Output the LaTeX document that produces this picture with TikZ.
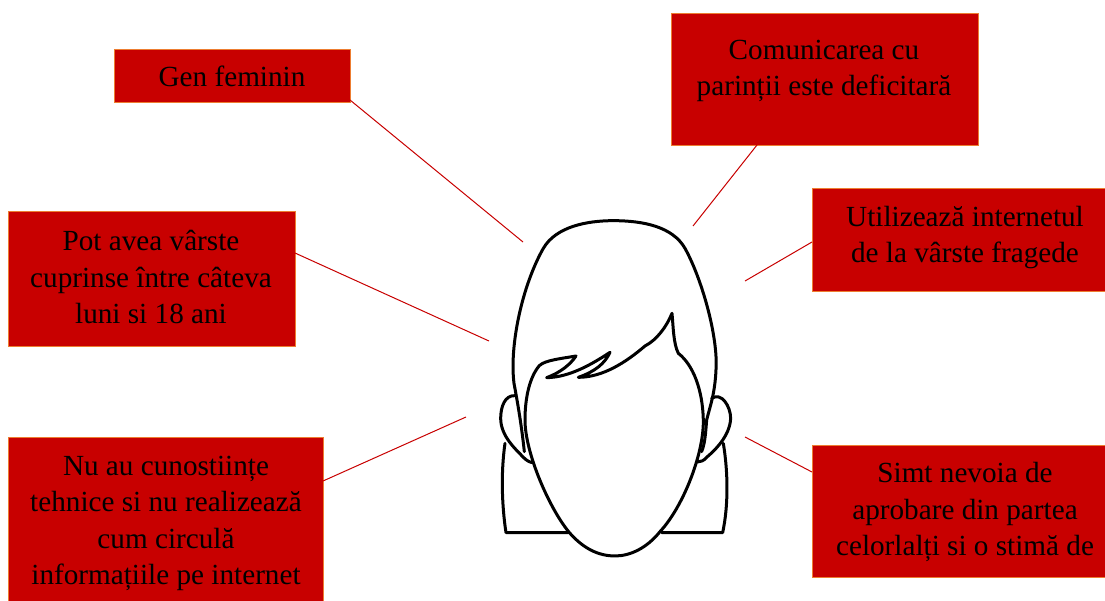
\documentclass[tikz,border=0pt]{standalone}
\usepackage{fontspec}
\setmainfont{Liberation Serif}
\definecolor{boxred}{RGB}{200,0,0}
\definecolor{boxedge}{RGB}{237,125,49}
\tikzset{
  redbox/.style={draw=boxedge,fill=boxred,line width=1.2pt,inner sep=0pt,anchor=north west},
  boxtext/.style={align=center,inner sep=0pt,text=black,font=\fontsize{29.2}{36.5}\selectfont},
  link/.style={draw=boxred,line width=1pt},
  sketch/.style={draw=black,line width=3pt,line join=round,line cap=round}
}
\begin{document}
\begin{tikzpicture}[x=1pt,y=-1pt]
\useasboundingbox (0,0) rectangle (1105,600);
\fill[white] (0,0) rectangle (1105,600);
% boxes
\node[redbox,minimum width=236pt,minimum height=53pt] (b1) at (114,49) {};
\node[redbox,minimum width=307pt,minimum height=132pt] (b2) at (671,13) {};
\node[redbox,minimum width=300pt,minimum height=103pt] (b3) at (812,188) {};
\node[redbox,minimum width=287pt,minimum height=135pt] (b4) at (8,211) {};
\node[redbox,minimum width=315pt,minimum height=175pt] (b5) at (8,437) {};
\node[redbox,minimum width=300pt,minimum height=132pt] (b6) at (812,445) {};
% texts
\node[boxtext] (t1) at (232,76.5) {Gen feminin};
\node[boxtext] (t2) at (824,71) {Comunicarea cu\\parinții este deficitară};
\node[boxtext] (t3) at (965,237.5) {Utilizează internetul\\de la vârste fragede};
\node[boxtext] (t4) at (151,277) {Pot avea vârste\\cuprinse între câteva\\luni si 18 ani};
\node[boxtext] (t5) at (166,523.5) {Nu au cunostiințe\\tehnice si nu realizează\\cum circulă\\informațiile pe internet};
\node[boxtext] (t6) at (965,512) {Simt nevoia de\\aprobare din partea\\celorlalți si o stimă de};
% connector ends
\coordinate (e1) at (350,100);\coordinate (f1) at (523,242);
\coordinate (e2) at (757,145);\coordinate (f2) at (693,226);
\coordinate (e3) at (812,242);\coordinate (f3) at (745,281);
\coordinate (e4) at (295,253);\coordinate (f4) at (489,341);
\coordinate (e5) at (323,481);\coordinate (f5) at (466,417);
\coordinate (e6) at (812,472);\coordinate (f6) at (745,437);
\foreach \i in {1,...,6} {\draw[link] (e\i) -- (f\i);}
% figure (coordinates in a 3x local grid)
\begin{scope}[shift={(480,220)},x=0.3333pt,y=-0.3333pt]
 % shoulders
 \draw[sketch] (75,670) .. controls (62,760) and (66,860) .. (78,938) -- (265,938);
 \draw[sketch] (730,670) .. controls (745,760) and (745,860) .. (728,938) -- (545,938);
 % ears
 \draw[sketch] (105,527) .. controls (75,525) and (62,560) .. (62,595) .. controls (62,650) and (110,690) .. (130,712) .. controls (140,722) and (150,728) .. (160,728);
 \draw[sketch] (695,535) .. controls (725,515) and (752,560) .. (752,595) .. controls (750,650) and (700,695) .. (680,712) .. controls (672,722) and (662,726) .. (652,726);
 % hair
 \draw[sketch] (133,695) .. controls (125,620) and (115,560) .. (102,490)
   .. controls (88,380) and (125,200) .. (190,85)
   .. controls (228,20) and (320,2) .. (400,2)
   .. controls (490,2) and (578,20) .. (615,85)
   .. controls (665,175) and (715,350) .. (708,450)
   .. controls (705,520) and (690,560) .. (680,600) .. controls (677,640) and (675,670) .. (665,695);
 % face and fringe
 \draw[sketch,fill=white] (178,437) .. controls (195,420) and (250,415) .. (288,408)
   .. controls (270,435) and (240,458) .. (200,473)
   .. controls (270,472) and (340,430) .. (390,397)
   .. controls (375,430) and (345,455) .. (295,472)
   .. controls (370,472) and (440,425) .. (495,378)
   .. controls (530,360) and (560,320) .. (576,280)
   .. controls (580,320) and (580,370) .. (595,400)
   .. controls (640,435) and (668,510) .. (670,600)
   .. controls (672,700) and (610,860) .. (540,935)
   .. controls (500,985) and (450,1008) .. (405,1008)
   .. controls (355,1008) and (310,985) .. (270,940)
   .. controls (210,870) and (135,700) .. (135,600)
   .. controls (135,530) and (150,470) .. (178,437) -- cycle;
\end{scope}
\end{tikzpicture}
\end{document}
